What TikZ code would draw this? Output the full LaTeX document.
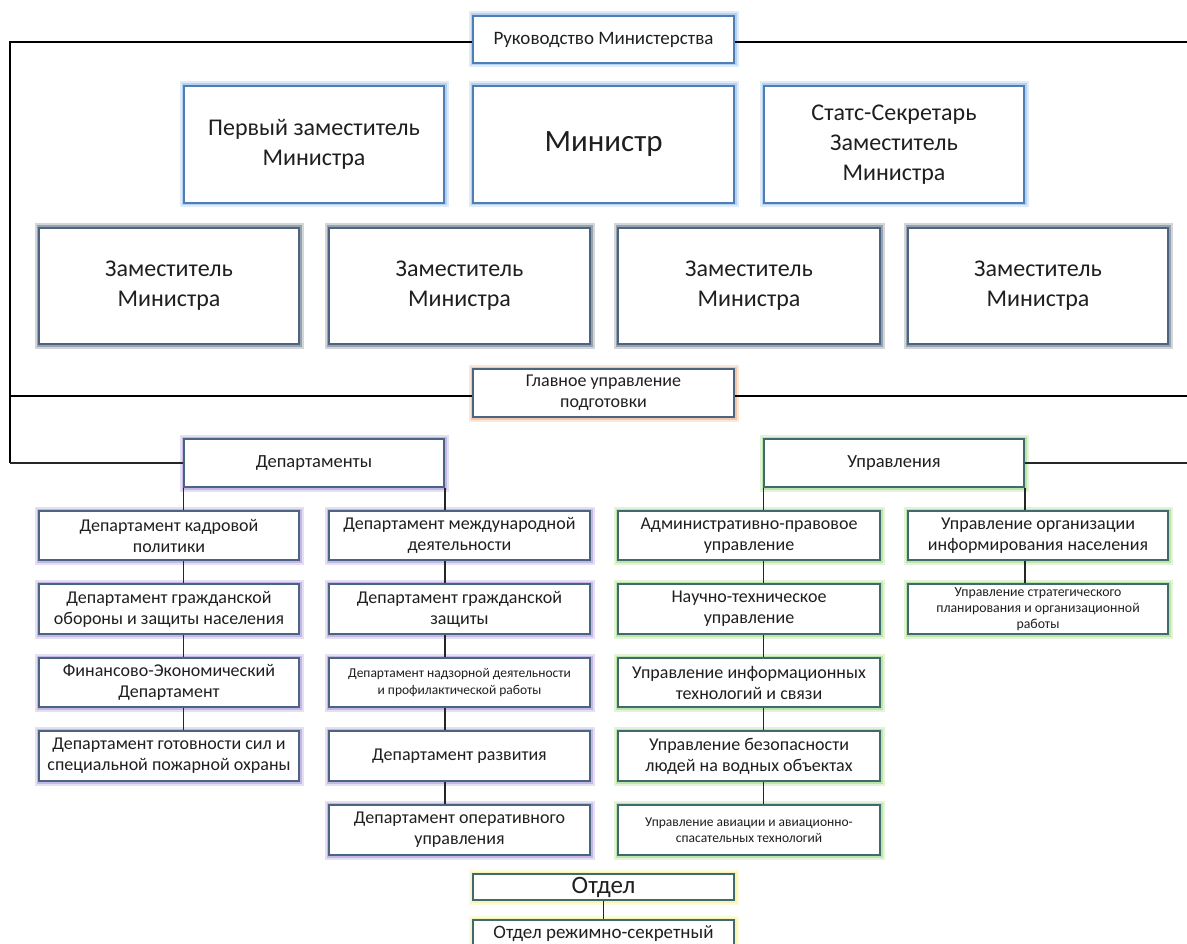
\documentclass[tikz,border=0pt]{standalone}
\usepackage{fontspec}
\setmainfont{Carlito}
\definecolor{bordblue}{HTML}{4F7DB5}
\definecolor{bordgray}{HTML}{4A6482}
\definecolor{glowblue}{HTML}{8DB8EA}
\definecolor{glowgray}{HTML}{5F6F80}
\definecolor{gloworange}{HTML}{F2A77C}
\definecolor{glowpurple}{HTML}{A58ED8}
\definecolor{glowgreen}{HTML}{9BD67C}
\definecolor{glowyellow}{HTML}{F4EE8A}
\definecolor{bordgreen}{HTML}{3F6A6E}
\tikzset{
  box/.style={draw=bordgray, fill=white, line width=1.8pt, inner sep=0pt, align=center, text=black!88},
  glow/.style={preaction={draw=#1, line width=9pt, opacity=0.28},
               preaction={draw=#1, line width=5pt, opacity=0.5}},
  bbox/.style={box, draw=bordblue, glow=glowblue},
  zbox/.style={box, glow=glowgray},
  obox/.style={box, glow=gloworange},
  pbox/.style={box, glow=glowpurple},
  gbox/.style={box, draw=bordgreen, glow=glowgreen},
  ybox/.style={box, draw=bordgreen, glow=glowyellow},
  big/.style={font=\fontsize{24}{30}\selectfont},
  mid/.style={font=\fontsize{18}{21}\selectfont},
  sml/.style={font=\fontsize{13.5}{16.5}\selectfont},
  mainline/.style={line width=1.8pt, black},
  conn/.style={line width=1.2pt, black!85},
}
\begin{document}
\begin{tikzpicture}[x=1pt,y=-1pt]
\useasboundingbox[fill=white] (0,0) rectangle (1187,944);
% top block
\node[bbox, minimum width=261, minimum height=47, font=\fontsize{19}{22}\selectfont] (ruk) at (603.5,39.5) {Руководство Министерства};
\node[bbox, big, minimum width=260, minimum height=117] (perv) at (314,144.5) {Первый заместитель\\Министра};
\node[bbox, minimum width=261, minimum height=117, font=\fontsize{31}{36}\selectfont] (min) at (603.5,144.5) {Министр};
\node[bbox, big, minimum width=260, minimum height=117] (stats) at (894,144.5) {Статс-Секретарь\\Заместитель\\Министра};
\node[zbox, big, minimum width=260, minimum height=116] (zam1) at (169,286) {Заместитель\\Министра};
\node[zbox, big, minimum width=261, minimum height=116] (zam2) at (459.5,286) {Заместитель\\Министра};
\node[zbox, big, minimum width=262, minimum height=116] (zam3) at (749,286) {Заместитель\\Министра};
\node[zbox, big, minimum width=260, minimum height=116] (zam4) at (1038,286) {Заместитель\\Министра};
\node[obox, mid, minimum width=261, minimum height=48] (glav) at (603.5,393) {Главное управление\\подготовки};
\node[pbox, minimum width=260, minimum height=48, font=\fontsize{18.5}{21}\selectfont] (dep) at (314,463) {Департаменты};
\node[gbox, minimum width=260, minimum height=48, font=\fontsize{18.5}{21}\selectfont] (upr) at (894,463) {Управления};
% frame lines
\coordinate (tl) at (10,42);
\coordinate (ml) at (10,396);
\coordinate (bl) at (10,463);
\coordinate (tr) at (1187,42);
\coordinate (mr) at (1187,396);
\coordinate (br) at (1187,463);
\draw[mainline] ([yshift=-2.5pt]ruk.west) -- (tl) -- (bl);
\draw[mainline] ([yshift=-2.5pt]ruk.east) -- (tr);
\draw[mainline] ([yshift=-3pt]glav.west) -- (ml);
\draw[mainline] ([yshift=-3pt]glav.east) -- (mr);
\draw[conn] (dep.west) -- (bl);
\draw[conn] (upr.east) -- (br);
% departments left column
\node[pbox, mid, minimum width=260, minimum height=49] (L1) at (169,535.5) {Департамент кадровой\\политики};
\node[pbox, mid, minimum width=260, minimum height=50] (L2) at (169,609) {Департамент гражданской\\обороны и защиты населения};
\node[pbox, mid, minimum width=260, minimum height=49] (L3) at (169,682.5) {Финансово-Экономический\\Департамент};
\node[pbox, mid, minimum width=260, minimum height=50] (L4) at (169,756) {Департамент готовности сил и\\специальной пожарной охраны};
% departments right column
\node[pbox, mid, minimum width=261, minimum height=49] (R1) at (459.5,535.5) {Департамент международной\\деятельности};
\node[pbox, mid, minimum width=261, minimum height=50] (R2) at (459.5,609) {Департамент гражданской\\защиты};
\node[pbox, sml, minimum width=261, minimum height=49] (R3) at (459.5,682.5) {Департамент надзорной деятельности\\и профилактической работы};
\node[pbox, mid, minimum width=261, minimum height=50] (R4) at (459.5,756) {Департамент развития};
\node[pbox, mid, minimum width=261, minimum height=50] (R5) at (459.5,830) {Департамент оперативного\\управления};
% управления column 1
\node[gbox, mid, minimum width=262, minimum height=49] (U1) at (749,535.5) {Административно-правовое\\управление};
\node[gbox, mid, minimum width=262, minimum height=50] (U2) at (749,609) {Научно-техническое\\управление};
\node[gbox, mid, minimum width=262, minimum height=49] (U3) at (749,682.5) {Управление информационных\\технологий и связи};
\node[gbox, mid, minimum width=262, minimum height=50] (U4) at (749,756) {Управление безопасности\\людей на водных объектах};
\node[gbox, sml, minimum width=262, minimum height=50] (U5) at (749,830) {Управление авиации и авиационно-\\спасательных технологий};
% управления column 2
\node[gbox, mid, minimum width=260, minimum height=49] (V1) at (1038,535.5) {Управление организации\\информирования населения};
\node[gbox, minimum width=260, minimum height=50, font=\fontsize{13.8}{16}\selectfont] (V2) at (1038,609) {Управление стратегического\\планирования и организационной\\работы};
% отдел
\node[ybox, minimum width=261, minimum height=26, font=\fontsize{25}{28}\selectfont] (otd) at (603.5,887) {Отдел};
\node[ybox, minimum width=261, minimum height=28, font=\fontsize{19}{22}\selectfont] (rez) at (603.5,934) {Отдел режимно-секретный};
% connectors
\draw[conn] (dep.south west) -- (dep.south west |- L1.north);
\draw[conn] (L1.south -| dep.south west) -- (L2.north -| dep.south west);
\draw[conn] (L2.south -| dep.south west) -- (L3.north -| dep.south west);
\draw[conn] (L3.south -| dep.south west) -- (L4.north -| dep.south west);
\draw[conn] (dep.south east) -- (dep.south east |- R1.north);
\draw[conn] (R1.south -| dep.south east) -- (R2.north -| dep.south east);
\draw[conn] (R2.south -| dep.south east) -- (R3.north -| dep.south east);
\draw[conn] (R3.south -| dep.south east) -- (R4.north -| dep.south east);
\draw[conn] (R4.south -| dep.south east) -- (R5.north -| dep.south east);
\draw[conn] (upr.south west) -- (upr.south west |- U1.north);
\draw[conn] (U1.south -| upr.south west) -- (U2.north -| upr.south west);
\draw[conn] (U2.south -| upr.south west) -- (U3.north -| upr.south west);
\draw[conn] (U3.south -| upr.south west) -- (U4.north -| upr.south west);
\draw[conn] (U4.south -| upr.south west) -- (U5.north -| upr.south west);
\draw[conn] (upr.south east) -- (upr.south east |- V1.north);
\draw[conn] (V1.south -| upr.south east) -- (V2.north -| upr.south east);
\draw[conn] (otd.south) -- (rez.north);
\end{tikzpicture}
\end{document}
